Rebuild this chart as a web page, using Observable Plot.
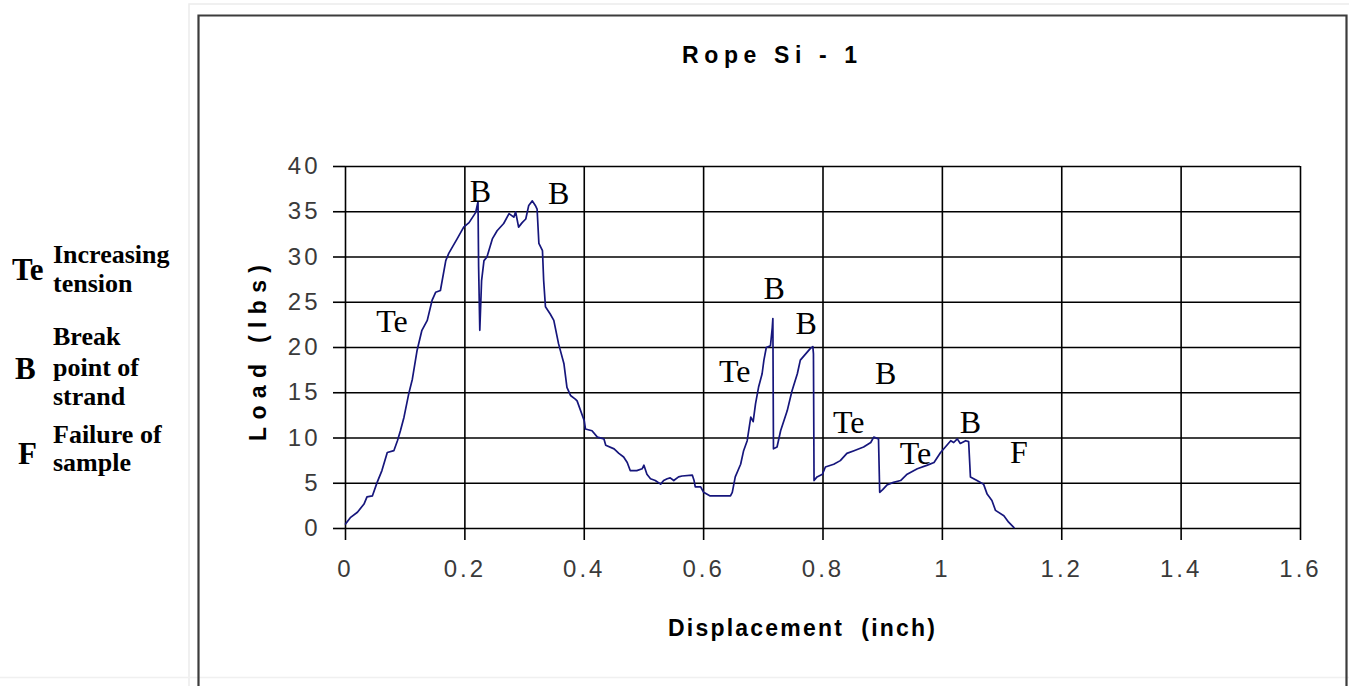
<!DOCTYPE html>
<html><head><meta charset="utf-8">
<script src="https://cdn.jsdelivr.net/npm/d3@7"></script>
<script src="https://cdn.jsdelivr.net/npm/@observablehq/plot@0.6"></script>
<style>
body{margin:0;background:#fff;}
#wrap{position:relative;width:1349px;height:686px;overflow:hidden;background:#fff;}
#wrap svg{position:absolute;left:0;top:0;}
g[aria-label="x-axis tick label"], g[aria-label="y-axis tick label"]{letter-spacing:3px;fill:#3a3a3a;font-size:24px;font-family:'Liberation Sans',Arial,sans-serif;}
</style></head><body><div id="wrap"></div>
<script>
// Load (lbs) vs displacement (inch)
const displacement = [0,0.008,0.02,0.031,0.036,0.045,0.053,0.061,0.07,0.081,0.087,0.092,0.098,0.106,0.112,0.12,0.128,0.137,0.145,0.151,0.159,0.168,0.173,0.179,0.187,0.198,0.207,0.218,0.222,0.223,0.225,0.228,0.232,0.237,0.246,0.254,0.265,0.274,0.282,0.285,0.29,0.296,0.302,0.307,0.313,0.318,0.321,0.324,0.33,0.332,0.335,0.343,0.349,0.357,0.366,0.371,0.377,0.385,0.388,0.4,0.402,0.413,0.422,0.433,0.436,0.45,0.458,0.466,0.472,0.477,0.488,0.497,0.5,0.505,0.511,0.519,0.528,0.533,0.539,0.544,0.55,0.558,0.564,0.581,0.584,0.586,0.595,0.6,0.611,0.628,0.645,0.648,0.653,0.662,0.667,0.673,0.679,0.683,0.687,0.692,0.698,0.701,0.705,0.712,0.715,0.716,0.717,0.723,0.729,0.74,0.748,0.757,0.762,0.771,0.779,0.783,0.784,0.785,0.79,0.799,0.804,0.818,0.829,0.84,0.852,0.868,0.88,0.885,0.893,0.895,0.9,0.907,0.918,0.93,0.941,0.958,0.975,0.986,0.997,1.005,1.014,1.019,1.025,1.03,1.039,1.044,1.047,1.058,1.069,1.075,1.083,1.089,1.103,1.111,1.12];
const load = [0.5,1.2,1.8,2.7,3.5,3.6,5.1,6.4,8.4,8.6,9.7,10.8,12.3,14.9,16.5,19.7,21.9,23,25.2,26.1,26.3,29.6,30.4,31.1,32,33.3,33.8,34.9,36.1,29,21.9,27.4,29.6,30,32,32.9,33.7,34.8,34.4,35,33.3,33.8,34.2,35.7,36.2,35.7,35.3,31.5,30.7,27.4,24.5,23.7,23,20.4,18.2,15.6,14.7,14.3,14.1,11.9,11,10.8,10.1,9.9,9.2,8.8,8.3,7.9,7.3,6.4,6.4,6.6,7.0,6.0,5.5,5.3,4.9,5.3,5.5,5.6,5.3,5.7,5.8,5.9,5.3,4.6,4.6,4.0,3.6,3.6,3.6,4.0,5.7,7.1,8.6,9.7,12.3,11.8,13.8,15.6,17.1,18.6,20.0,20.2,22.2,23.2,8.8,9.0,10.8,13.0,15.2,17.1,18.6,19.3,19.9,20.1,19.3,5.3,5.7,6.0,6.8,7.1,7.5,8.3,8.6,9.0,9.5,10.1,9.9,4.0,4.3,4.8,5.1,5.3,6.0,6.6,7.0,7.3,8.4,9.0,9.7,9.5,9.9,9.4,9.7,9.6,5.7,5.3,4.9,3.8,3.1,2.0,1.4,0.7,0.1];

const xTicks = [0,0.2,0.4,0.6,0.8,1,1.2,1.4,1.6];
const xTickLabels = ["0","0.2","0.4","0.6","0.8","1","1.2","1.4","1.6"];
const yTicks = [0,5,10,15,20,25,30,35,40];
const yTickLabels = ["0","5","10","15","20","25","30","35","40"];

const annoLabels = ["Te","B","B","B","B","Te","B","Te","Te","B","F"];
const annoX = [0.078,0.226,0.357,0.718,0.772,0.652,0.905,0.843,0.955,1.047,1.128];
const annoY = [22.8,37.2,37.0,26.5,22.6,17.3,17.1,11.7,8.3,11.7,8.4];

const titleText = "Rope Si - 1";
const xLabelText = "Displacement  (inch)";
const yLabelText = "Load (lbs)";
const legendKeys = ["Te","B","F"];
const legendLines = [["Increasing","tension"],["Break","point of","strand"],["Failure of","sample"]];

const data = displacement.map((d,i)=>({x:d,y:load[i]}));
const annos = annoLabels.map((t,i)=>({t,x:annoX[i],y:annoY[i]}));

const chart = Plot.plot({
  width:1349, height:686,
  marginLeft:345, marginRight:49, marginTop:166, marginBottom:158,
  style:{fontFamily:"'Liberation Sans', Arial, sans-serif", background:"transparent", color:"#000"},
  x:{domain:[0,1.6]},
  y:{domain:[0,40]},
  marks:[
    Plot.gridX(xTicks,{stroke:"#000",strokeOpacity:1,strokeWidth:1.6}),
    Plot.gridY(yTicks,{stroke:"#000",strokeOpacity:1,strokeWidth:1.6}),
    Plot.axisX(xTicks,{tickSize:12,tickPadding:19,strokeWidth:1.6,label:null,tickFormat:d=>xTickLabels[xTicks.indexOf(d)]}),
    Plot.axisY(yTicks,{tickSize:12,tickPadding:13,strokeWidth:1.6,label:null,tickFormat:d=>yTickLabels[yTicks.indexOf(d)]}),
    Plot.line(data,{x:"x",y:"y",stroke:"#16167c",strokeWidth:1.7}),
    Plot.text(annos,{x:"x",y:"y",text:"t",fontFamily:"'Liberation Serif','Times New Roman',serif",fontSize:32,fill:"#000"})
  ]
});
const wrap = document.getElementById("wrap");
wrap.appendChild(chart);

// overlay: frame, title, axis titles, legend
const ov = d3.select(wrap).append("svg").attr("width",1349).attr("height",686).style("pointer-events","none");
ov.append("path").attr("d","M189,686V4H1349").attr("fill","none").attr("stroke","#ececec").attr("stroke-width",1.5);
ov.append("path").attr("d","M0,677.5H1349").attr("stroke","#f0f0f0").attr("stroke-width",1.5);
ov.append("path").attr("d","M198.5,686V15.5H1346.5V686").attr("fill","none").attr("stroke","#3c3c3c").attr("stroke-width",2.2);

const sansB = "'Liberation Sans', Arial, sans-serif";
ov.append("text").attr("x",769.5).attr("y",63).attr("text-anchor","middle")
  .attr("font-family",sansB).attr("font-weight","bold").attr("font-size",23)
  .attr("textLength",175).attr("lengthAdjust","spacing").text(titleText);
ov.append("text").attr("x",801.5).attr("y",636).attr("text-anchor","middle")
  .attr("font-family",sansB).attr("font-weight","bold").attr("font-size",23)
  .attr("textLength",267).attr("lengthAdjust","spacing").style("white-space","pre").text(xLabelText);
ov.append("text").attr("transform","translate(266,353) rotate(-90)").attr("text-anchor","middle")
  .attr("font-family",sansB).attr("font-weight","bold").attr("font-size",23)
  .attr("textLength",176).attr("lengthAdjust","spacing").text(yLabelText);

const serif = "'Liberation Serif','Times New Roman',serif";
const keyPos = [[12,280],[15,379],[18,464]];
const linePos = [[263,292],[345,376,405],[443,471]];
legendKeys.forEach((k,i)=>{
  ov.append("text").attr("x",keyPos[i][0]).attr("y",keyPos[i][1]).attr("font-family",serif)
    .attr("font-weight","bold").attr("font-size",31).text(k);
  legendLines[i].forEach((l,j)=>{
    ov.append("text").attr("x",53).attr("y",linePos[i][j]).attr("font-family",serif)
      .attr("font-weight","bold").attr("font-size",26).text(l);
  });
});
</script></body></html>
